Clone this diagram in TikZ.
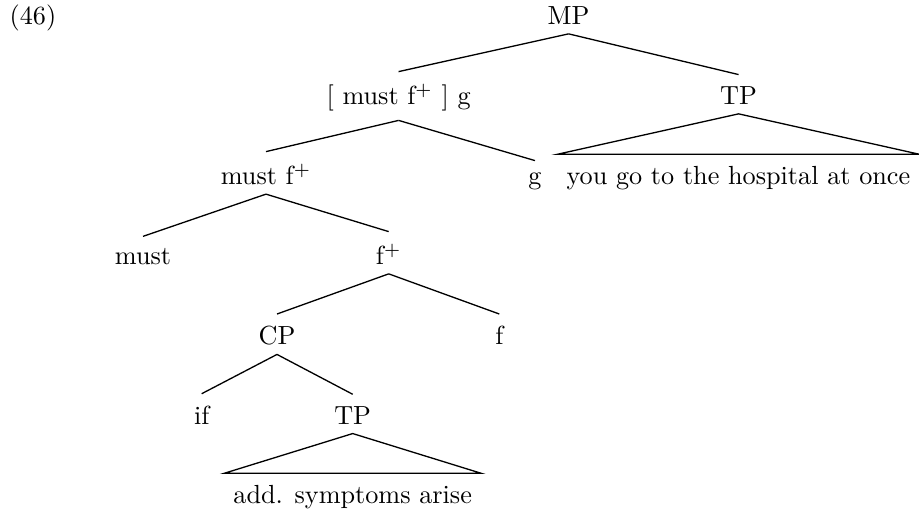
\documentclass[tikz,border=0pt]{standalone}
\begin{document}
\begin{tikzpicture}[x=0.3817pt,y=-0.3817pt,
  tn/.style={inner sep=3.33pt, anchor=base},
  br/.style={line width=0.5pt}]
\useasboundingbox (0,0) rectangle (919,510);
% level 0
\node[tn] (ex) at (33,24.6) {(46)};
\node[tn] (MP) at (568.6,24.6) {MP};
% level 1
\node[tn] (B) at (398.6,104.6) {[ must f$^+$ ] g};
\node[tn] (TPa) at (738.6,104.6) {TP};
% level 2
\node[tn] (MF) at (266,184.6) {must f$^+$};
\node[tn] (G) at (535,184.6) {g};
\node[tn] (H) at (738.4,184.6) {you go to the hospital at once};
% level 3
\node[tn] (M) at (143,264.6) {must};
\node[tn] (FP) at (388.7,264.6) {f$^+$};
% level 4
\node[tn] (CP) at (277,344.6) {CP};
\node[tn] (F) at (499.3,344.6) {f};
% level 5
\node[tn] (IF) at (201.7,424.3) {if};
\node[tn] (TPb) at (352.7,424.3) {TP};
% level 6
\node[tn] (S) at (352.7,503.6) {add. symptoms arise};
% edges
\draw[br] (MP.south) -- ([yshift=1.1pt]B.north);
\draw[br] (MP.south) -- ([yshift=1.1pt]TPa.north);
\draw[br] (B.south) -- ([yshift=1.1pt]MF.north);
\draw[br] (B.south) -- ([yshift=1.1pt]G.north);
\draw[br] (TPa.south) -- ([yshift=1.1pt]H.north west) -- ([yshift=1.1pt]H.north east) -- cycle;
\draw[br] (MF.south) -- ([yshift=1.1pt]M.north);
\draw[br] (MF.south) -- ([yshift=1.1pt]FP.north);
\draw[br] (FP.south) -- ([yshift=1.1pt]CP.north);
\draw[br] (FP.south) -- ([yshift=1.1pt]F.north);
\draw[br] (CP.south) -- ([yshift=1.1pt]IF.north);
\draw[br] (CP.south) -- ([yshift=1.1pt]TPb.north);
\draw[br] (TPb.south) -- ([yshift=1.1pt]S.north west) -- ([yshift=1.1pt]S.north east) -- cycle;
\end{tikzpicture}
\end{document}
